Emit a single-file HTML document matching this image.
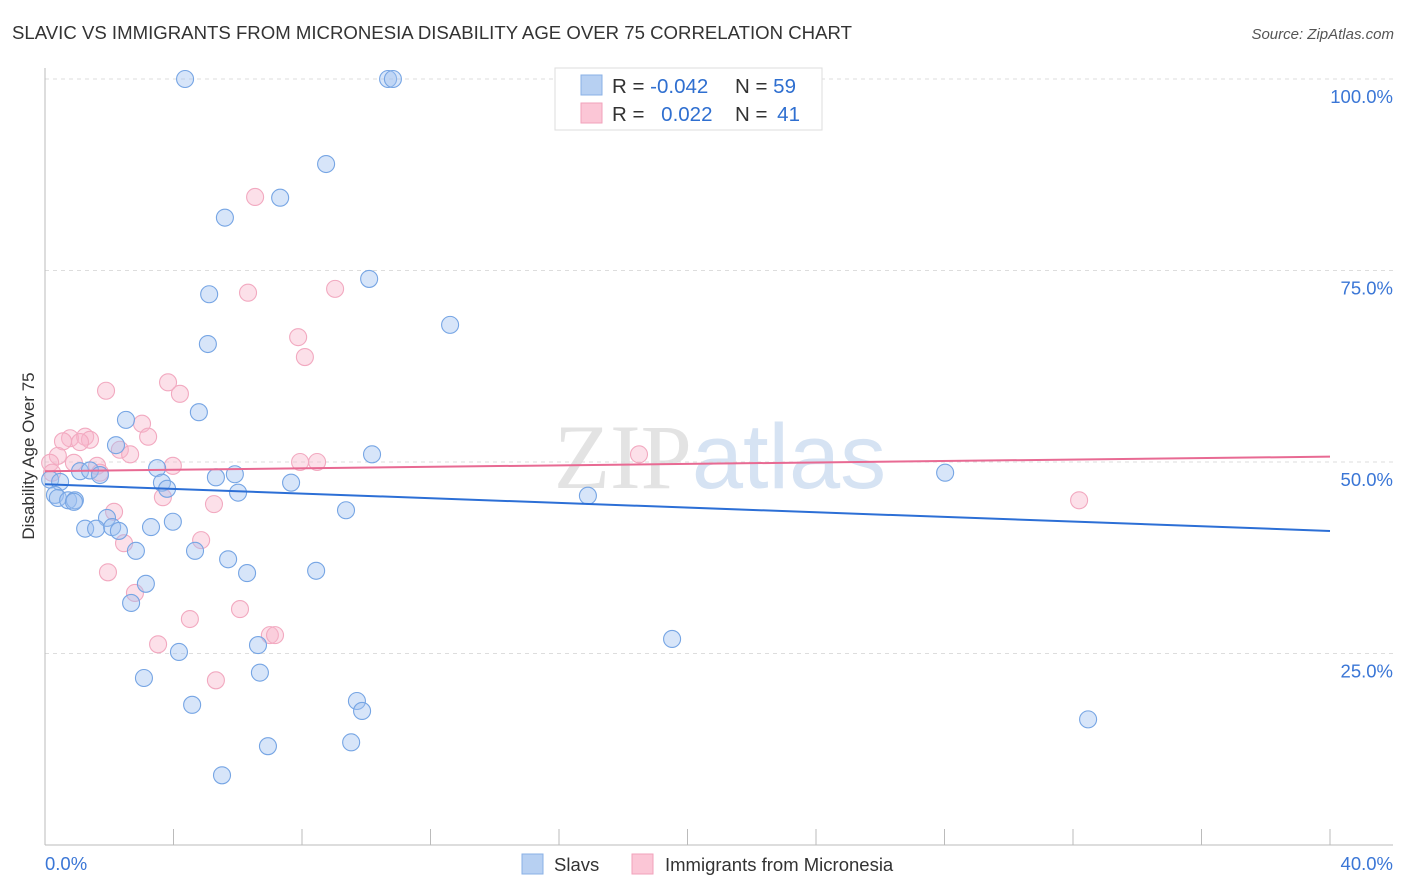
<!DOCTYPE html>
<html><head><meta charset="utf-8"><style>
body{margin:0;background:#fff;font-family:"Liberation Sans",sans-serif;}
svg{display:block}
</style></head><body>
<svg id="chart" width="1406" height="892">
<text x="12" y="39" font-size="18" fill="#333" textLength="840" lengthAdjust="spacingAndGlyphs">SLAVIC VS IMMIGRANTS FROM MICRONESIA DISABILITY AGE OVER 75 CORRELATION CHART</text>
<text x="1394" y="39" font-size="15" fill="#555" font-style="italic" text-anchor="end">Source: ZipAtlas.com</text>
<text x="720" y="488" font-size="92" fill="#e3e3e3" text-anchor="middle" font-family="Liberation Serif,serif">ZIP<tspan fill="#d6e3f3" font-family="Liberation Sans,sans-serif">atlas</tspan></text>
<text transform="translate(34,456) rotate(-90)" font-size="17" fill="#333" text-anchor="middle">Disability Age Over 75</text>
<g id="grid"></g><g id="ticks"></g><g id="pts"></g><g id="lines"></g>
<g>
<rect x="555" y="68" width="267" height="62" fill="#fff" stroke="#ddd"/>
<rect x="581" y="75" width="21" height="20" fill="#b7d0f2" stroke="#8ab0e6"/>
<rect x="581" y="103" width="21" height="20" fill="#fbc6d6" stroke="#f1a2bb"/>
<text x="612" y="93" font-size="20.5" fill="#333">R = <tspan fill="#2f6fd0">-0.042</tspan></text>
<text x="735" y="93" font-size="20.5" fill="#333">N = <tspan fill="#2f6fd0">59</tspan></text>
<text x="612" y="121" font-size="20.5" fill="#333">R = <tspan fill="#2f6fd0" dx="11">0.022</tspan></text>
<text x="735" y="121" font-size="20.5" fill="#333">N = <tspan fill="#2f6fd0" dx="4">41</tspan></text>
</g>
<g>
<rect x="522" y="854" width="21" height="20" fill="#b7d0f2" stroke="#8ab0e6"/>
<text x="554" y="871" font-size="18.5" fill="#333">Slavs</text>
<rect x="632" y="854" width="21" height="20" fill="#fbc6d6" stroke="#f1a2bb"/>
<text x="665" y="871" font-size="18.5" fill="#333">Immigrants from Micronesia</text>
</g>
</svg>
<script>
const yTicks=[100,75,50,25];
const yTickLabels=["100.0%","75.0%","50.0%","25.0%"];
const xTickLabels=["0.0%","40.0%"];
const slavX=[4.36,10.68,10.83,8.75,7.32,5.60,10.09,5.11,12.61,5.07,4.79,2.52,2.21,10.18,3.49,1.09,1.40,1.71,5.91,5.32,3.64,3.80,7.66,6.01,0.16,0.47,0.31,0.40,0.72,0.93,0.90,16.90,28.02,9.37,1.93,3.98,1.25,1.59,2.09,2.30,3.30,2.83,4.67,5.70,6.29,8.44,3.14,2.68,19.52,6.63,4.17,3.08,6.69,9.71,9.87,4.58,6.94,9.53,5.51,32.47];
const slavY=[100,100,100,88.9,84.5,81.9,73.9,71.9,67.9,65.4,56.5,55.5,52.2,51.0,49.2,48.8,48.9,48.3,48.4,48.0,47.3,46.5,47.3,46.0,47.7,47.4,45.7,45.3,45.0,45.0,44.8,45.6,48.6,43.7,42.7,42.2,41.3,41.3,41.5,41.0,41.5,38.4,38.4,37.3,35.5,35.8,34.1,31.6,26.9,26.1,25.2,21.8,22.5,18.8,17.5,18.3,12.9,13.4,9.1,16.4];
const micX=[6.54,6.32,9.03,7.88,8.09,3.83,1.90,4.20,3.02,3.21,0.78,1.25,1.40,0.56,1.09,2.33,2.65,0.40,0.16,0.90,1.62,1.71,3.98,7.94,8.47,18.49,0.22,32.19,3.67,5.26,2.15,2.46,4.86,1.96,2.80,6.07,4.51,3.52,7.00,7.16,5.32];
const micY=[84.6,72.1,72.6,66.3,63.7,60.4,59.3,58.9,55.0,53.3,53.1,53.3,52.9,52.7,52.6,51.6,51.0,50.8,49.9,49.9,49.5,48.6,49.5,50.0,50.0,51.0,48.6,45.0,45.4,44.5,43.5,39.4,39.8,35.6,32.9,30.8,29.5,26.2,27.4,27.4,21.5];
const slavTrend=[47.1,41.0];
const micTrend=[48.8,50.7];
const trendX=[0,40];
const NS="http://www.w3.org/2000/svg";
const sx=v=>45+v/40*1285, sy=v=>845-v*7.66;
function mk(tag,attrs,parent){const e=document.createElementNS(NS,tag);for(const k in attrs)e.setAttribute(k,attrs[k]);document.getElementById(parent).appendChild(e);return e;}
yTicks.forEach((t,i)=>{
 const g=mk('line',{x1:45,x2:1393,y1:sy(t),y2:sy(t),stroke:'#ddd','stroke-dasharray':'4,4'},'grid');
 
 
 const l=mk('text',{x:1393,y:sy(t)+24,'font-size':18.5,fill:'#3a76d6','text-anchor':'end'},'grid');l.textContent=yTickLabels[i];
 
 
});
const ax=mk('line',{x1:45,x2:45,y1:68,y2:845,stroke:'#bbb'},'grid');


const bx=mk('line',{x1:45,x2:1393,y1:845,y2:845,stroke:'#bbb'},'grid');


for(let i=1;i<=10;i++){const t=mk('line',{x1:sx(i*4),x2:sx(i*4),y1:829,y2:845,stroke:'#bbb'},'ticks');
 
 }
[[0,'start',45],[1,'end',1393]].forEach(([i,a,x])=>{const l=mk('text',{x:x,y:870,'font-size':18.5,fill:'#3a76d6','text-anchor':a},'ticks');l.textContent=xTickLabels[i];
 
 });
micX.forEach((x,i)=>{const c=mk('circle',{cx:sx(x),cy:sy(micY[i]),r:8.5,fill:'rgba(248,180,202,0.42)',stroke:'#f2a9c0','stroke-width':1.1},'pts');
 
 });
slavX.forEach((x,i)=>{const c=mk('circle',{cx:sx(x),cy:sy(slavY[i]),r:8.5,fill:'rgba(160,194,240,0.42)',stroke:'#76a5e4','stroke-width':1.1},'pts');
 
 });
const t1=mk('line',{x1:sx(trendX[0]),x2:sx(trendX[1]),y1:sy(slavTrend[0]),y2:sy(slavTrend[1]),stroke:'#2c6fd6','stroke-width':2},'lines');


const t2=mk('line',{x1:sx(trendX[0]),x2:sx(trendX[1]),y1:sy(micTrend[0]),y2:sy(micTrend[1]),stroke:'#e86a93','stroke-width':2},'lines');


</script>
</body></html>
